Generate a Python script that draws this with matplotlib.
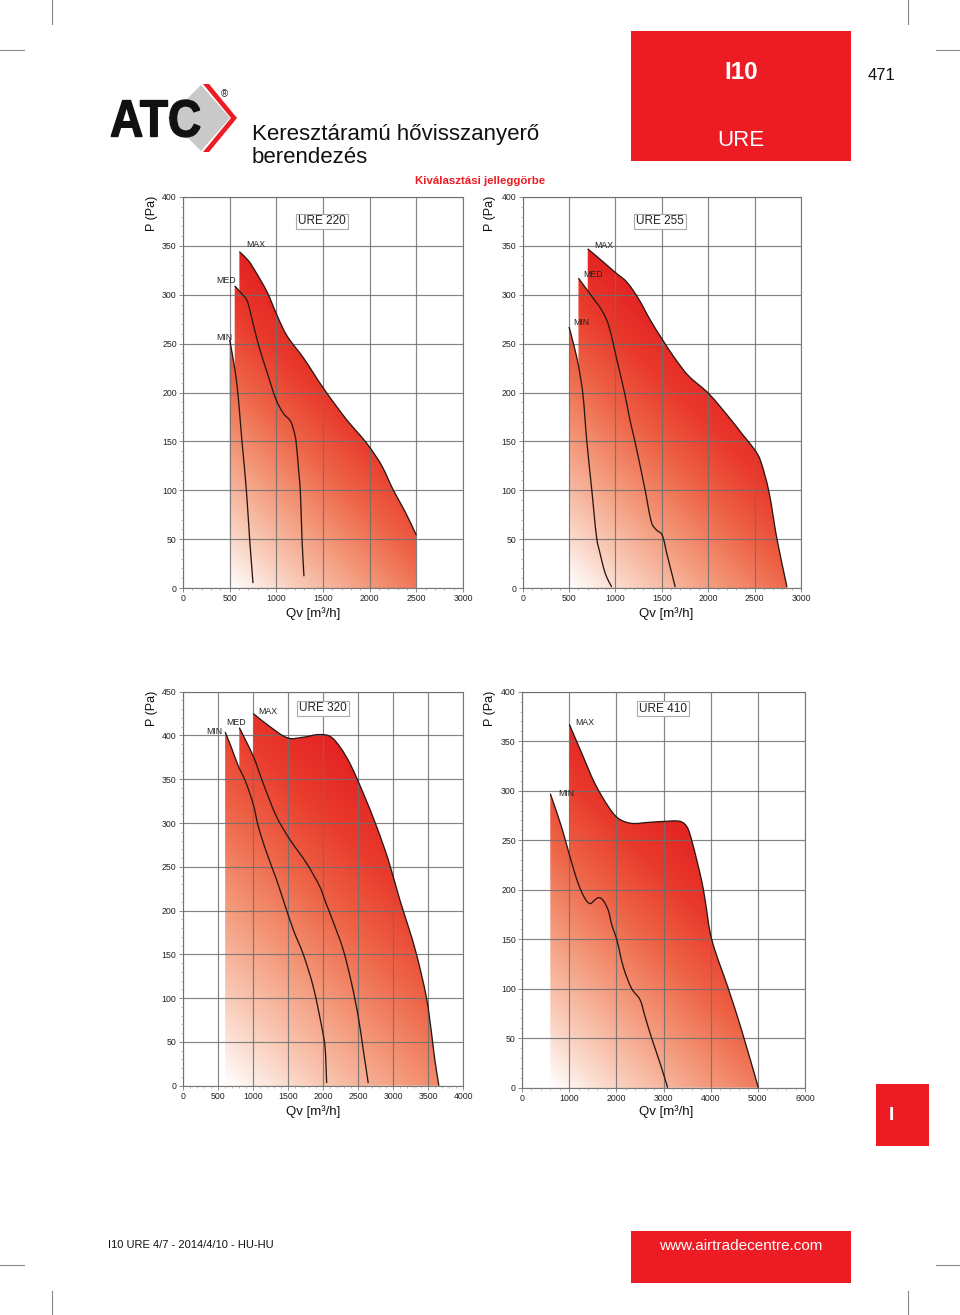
import numpy as np
import matplotlib
matplotlib.use("Agg")
import matplotlib.pyplot as plt
from matplotlib.colors import LinearSegmentedColormap
from matplotlib.patches import Polygon, Rectangle, PathPatch
from matplotlib.path import Path
from matplotlib.textpath import TextPath
from matplotlib.font_manager import FontProperties
from matplotlib.ticker import MultipleLocator, AutoMinorLocator

plt.rcParams['font.family'] = ['Liberation Sans', 'DejaVu Sans']

RED = '#ed1c24'
W, H = 960, 1315

# URE 220  (Qv m3/h, P Pa)
ure220_min_q = [500, 543, 579, 610, 632, 679, 714, 750]
ure220_min_p = [254, 231, 207, 175, 150, 100, 50, 5]
ure220_med_q = [554, 620, 686, 739, 811, 900, 1000, 1080, 1150, 1190, 1211, 1239, 1257, 1275, 1296]
ure220_med_p = [309, 302, 294, 275, 248, 221, 192, 178, 171, 160, 150, 120, 100, 50, 12]
ure220_max_q = [604, 700, 775, 900, 1007, 1114, 1293, 1507, 1754, 1900, 2000, 2130, 2254, 2380, 2500]
ure220_max_p = [344, 335, 324, 303, 279, 258, 235, 204, 172, 156, 144, 125, 100, 78, 54]

# URE 255
ure255_min_q = [500, 560, 600, 647, 670, 691, 745, 799, 840, 871, 906, 960]
ure255_min_p = [267, 245, 228, 200, 175, 150, 100, 50, 33, 21, 11, 1]
ure255_med_q = [601, 709, 853, 925, 1014, 1104, 1158, 1210, 1320, 1392, 1446, 1500, 1554, 1644]
ure255_med_p = [317, 303, 284, 269, 234, 197, 171, 150, 100, 66, 59, 55, 35, 1]
ure255_max_q = [701, 850, 996, 1122, 1248, 1370, 1500, 1640, 1788, 2004, 2255, 2370, 2504, 2561, 2651, 2741, 2849]
ure255_max_p = [347, 335, 323, 313, 296, 275, 255, 235, 217, 199, 171, 157, 141, 131, 100, 50, 1]

# URE 320
ure320_min_q = [605, 700, 793, 888, 1007, 1078, 1197, 1339, 1434, 1577, 1719, 1861, 1980, 2028, 2052]
ure320_min_p = [404, 385, 365, 349, 321, 296, 266, 235, 212, 178, 150, 113, 68, 45, 3]
ure320_med_q = [807, 1007, 1149, 1339, 1529, 1766, 1956, 2040, 2146, 2289, 2407, 2502, 2574, 2645]
ure320_med_p = [409, 376, 345, 307, 281, 254, 227, 209, 187, 155, 117, 79, 41, 3]
ure320_max_q = [1007, 1244, 1505, 1719, 1933, 2099, 2241, 2384, 2574, 2764, 2930, 3096, 3215, 3333, 3476, 3547, 3595, 3652]
ure320_max_p = [425, 410, 397, 398, 401, 399, 387, 368, 334, 296, 258, 212, 182, 150, 100, 60, 29, 0]

# URE 410
ure410_min_q = [600, 841, 1018, 1194, 1336, 1442, 1530, 1630, 1724, 1830, 1900, 2007, 2148, 2325, 2501, 2608, 2749, 2926, 3088]
ure410_min_p = [297, 263, 233, 206, 191, 186, 189, 192, 189, 179, 165, 150, 122, 100, 89, 72, 50, 25, 0]
ure410_max_q = [1004, 1265, 1548, 1830, 2042, 2325, 2678, 3032, 3350, 3491, 3597, 3809, 3880, 4021, 4375, 4657, 5011]
ure410_max_p = [367, 338, 307, 284, 272, 267, 268, 269, 269, 264, 250, 209, 190, 150, 100, 58, 0]

cmap = LinearSegmentedColormap.from_list(
    'fan', [(0, '#ffffff'), (0.2, '#f9cbb8'), (0.42, '#f39677'),
            (0.62, '#ee6447'), (0.82, '#e93a2c'), (1, '#e42323')])

fig = plt.figure(figsize=(W / 100, H / 100), dpi=100)


def px_rect(left, top, right, bottom):
    return [left / W, 1 - bottom / H, (right - left) / W, (bottom - top) / H]


def curve_path(q, p, kx, ky, closed=False):
    # smooth bezier through the read points (drawn in screen proportions)
    pts = np.column_stack([np.asarray(q, float) * kx, np.asarray(p, float) * ky])
    n = len(pts)
    tang = np.zeros_like(pts)
    for i in range(n):
        d = pts[min(i + 1, n - 1)] - pts[max(i - 1, 0)]
        tang[i] = d / np.hypot(*d)
    verts = [pts[0]]
    codes = [Path.MOVETO]
    for i in range(n - 1):
        L = np.hypot(*(pts[i + 1] - pts[i])) / 3
        verts += [pts[i] + tang[i] * L, pts[i + 1] - tang[i + 1] * L, pts[i + 1]]
        codes += [Path.CURVE4] * 3
    verts = np.array(verts) / [kx, ky]
    if closed:
        verts = np.vstack([verts, [[q[-1], 0], [q[0], 0], [q[0], 0]]])
        codes += [Path.LINETO, Path.LINETO, Path.CLOSEPOLY]
    return Path(verts, codes)


def draw_chart(rect, model, curves, labels, xmax, xstep, ymax, tag_pos):
    ax = fig.add_axes(rect)
    kx = rect[2] * W / xmax
    ky = rect[3] * H / ymax
    q0 = curves[0][1][0]
    norm = max(((np.array(q) - q0) * kx + np.array(p) * ky).max() for _, q, p in curves)
    gx, gy = np.meshgrid(np.linspace(0, xmax, 500), np.linspace(0, ymax, 500))
    t = np.clip(((gx - q0) * kx + gy * ky) / norm, 0, 1)
    for _, q, p in curves:
        patch = PathPatch(curve_path(q, p, kx, ky, closed=True), fc='none', ec='none')
        ax.add_patch(patch)
        im = ax.imshow(t, extent=[0, xmax, 0, ymax], origin='lower', aspect='auto',
                       cmap=cmap, vmin=0, vmax=1, zorder=1, interpolation='bilinear')
        im.set_clip_path(patch)
    for _, q, p in curves:
        ax.add_patch(PathPatch(curve_path(q, p, kx, ky), fc='none', ec='#2b1712',
                               lw=0.95, zorder=4))
    for name, lq, lp in labels:
        ax.text(lq, lp, name, fontsize=6.3, color='#222', ha='left', va='center', zorder=5)
    ax.text(tag_pos[0], tag_pos[1], model, fontsize=8.5, color='#222', ha='center', va='center',
            zorder=5, bbox=dict(boxstyle='square,pad=0.15', fc='white', ec='#aaaaaa', lw=0.8))
    ax.set_xlim(0, xmax)
    ax.set_ylim(0, ymax)
    ax.xaxis.set_major_locator(MultipleLocator(xstep))
    ax.yaxis.set_major_locator(MultipleLocator(50))
    ax.xaxis.set_minor_locator(AutoMinorLocator(5))
    ax.yaxis.set_minor_locator(AutoMinorLocator(5))
    ax.grid(True, which='major', color='#6e6e6e', lw=0.85, alpha=0.85)
    ax.set_axisbelow(False)
    ax.tick_params(which='major', labelsize=6.3, length=3, width=0.6, color='#777',
                   pad=1.5, labelcolor='#222')
    ax.tick_params(which='minor', length=1.5, width=0.5, color='#999')
    for s in ax.spines.values():
        s.set_color('#777')
        s.set_linewidth(0.8)
    return ax


draw_chart(px_rect(183, 197, 463, 588), 'URE 220',
           [('MIN', ure220_min_q, ure220_min_p), ('MED', ure220_med_q, ure220_med_p),
            ('MAX', ure220_max_q, ure220_max_p)],
           [('MIN', 354, 256), ('MED', 354, 315), ('MAX', 675, 351)],
           3000, 500, 400, (1490, 375))
draw_chart(px_rect(522.7, 197, 801, 588), 'URE 255',
           [('MIN', ure255_min_q, ure255_min_p), ('MED', ure255_med_q, ure255_med_p),
            ('MAX', ure255_max_q, ure255_max_p)],
           [('MIN', 541, 272), ('MED', 650, 321), ('MAX', 768, 350)],
           3000, 500, 400, (1480, 375))
draw_chart(px_rect(182.7, 691.7, 463.3, 1085.7), 'URE 320',
           [('MIN', ure320_min_q, ure320_min_p), ('MED', ure320_med_q, ure320_med_p),
            ('MAX', ure320_max_q, ure320_max_p)],
           [('MIN', 333, 404), ('MED', 618, 415), ('MAX', 1073, 427)],
           4000, 500, 450, (2000, 431))
draw_chart(px_rect(522, 691.7, 805, 1087.7), 'URE 410',
           [('MIN', ure410_min_q, ure410_min_p), ('MAX', ure410_max_q, ure410_max_p)],
           [('MIN', 763, 297), ('MAX', 1124, 369)],
           6000, 1000, 400, (2990, 383))

# page overlay in pixel coordinates
ov = fig.add_axes([0, 0, 1, 1])
ov.set_xlim(0, W)
ov.set_ylim(H, 0)
ov.axis('off')
ov.patch.set_alpha(0)
ov.set_zorder(10)

for x0, y0, x1, y1 in [(52, 0, 52, 24), (0, 50, 24, 50), (908, 0, 908, 24), (936, 50, 960, 50),
                       (52, 1291, 52, 1315), (0, 1265, 24, 1265), (908, 1291, 908, 1315),
                       (936, 1265, 960, 1265)]:
    ov.plot([x0, x1], [y0, y1], color='#888', lw=0.8)

# logo
ov.add_patch(Polygon([(201, 85), (230, 118), (201, 151), (168, 118)], closed=True,
                     fc='#c9c9c9', ec='none'))
ov.add_patch(Polygon([(203, 84), (209, 84), (237, 118), (209, 152), (203, 152), (231, 118)],
                     closed=True, fc=RED, ec='none'))
tp = TextPath((0, 0), 'ATC', size=40, prop=FontProperties(family='Liberation Sans', weight='bold'))
v = tp.vertices.copy()
xmn, ymn = v.min(axis=0)
xmx, ymx = v.max(axis=0)
v[:, 0] = 110 + (v[:, 0] - xmn) / (xmx - xmn) * 90
v[:, 1] = 137 - (v[:, 1] - ymn) / (ymx - ymn) * 37
ov.add_patch(PathPatch(Path(v, tp.codes), fc='#111', ec='#111', lw=1.0))
ov.text(224, 94, '®', fontsize=7, ha='center', va='center', color='#222')

ov.text(252, 140, 'Keresztáramú hővisszanyerő', fontsize=16, color='#111', va='baseline')
ov.text(252, 163, 'berendezés', fontsize=16, color='#111', va='baseline')
ov.text(480, 181, 'Kiválasztási jelleggörbe', fontsize=8.2, color=RED, fontweight='bold',
        ha='center', va='center')

ov.add_patch(Rectangle((631, 31), 220, 130, fc=RED, ec='none'))
ov.text(741, 72, 'I10', fontsize=17.5, fontweight='bold', color='white', ha='center', va='center')
ov.text(741, 140, 'URE', fontsize=16, color='white', ha='center', va='center')
ov.text(882, 75, '471', fontsize=12, color='#111', ha='center', va='center')

for x, y in [(152, 213), (490, 213), (152, 708), (490, 708)]:
    ov.text(x, y, 'P (Pa)', fontsize=9, rotation=90, ha='center', va='center', color='#111')
for x, y in [(313, 614), (666, 614), (313, 1112), (666, 1112)]:
    ov.text(x, y, 'Qv [m³/h]', fontsize=9.5, ha='center', va='center', color='#111')

ov.add_patch(Rectangle((876, 1084), 53, 62, fc=RED, ec='none'))
ov.text(891, 1116, 'I', fontsize=14, fontweight='bold', color='white', ha='center', va='center')

ov.text(108, 1245, 'I10 URE 4/7 - 2014/4/10 - HU-HU', fontsize=8, color='#111', va='center')
ov.add_patch(Rectangle((631, 1231), 220, 52, fc=RED, ec='none'))
ov.text(741, 1246, 'www.airtradecentre.com', fontsize=11, color='white', ha='center', va='center')

fig.savefig('out.png', dpi=100)
